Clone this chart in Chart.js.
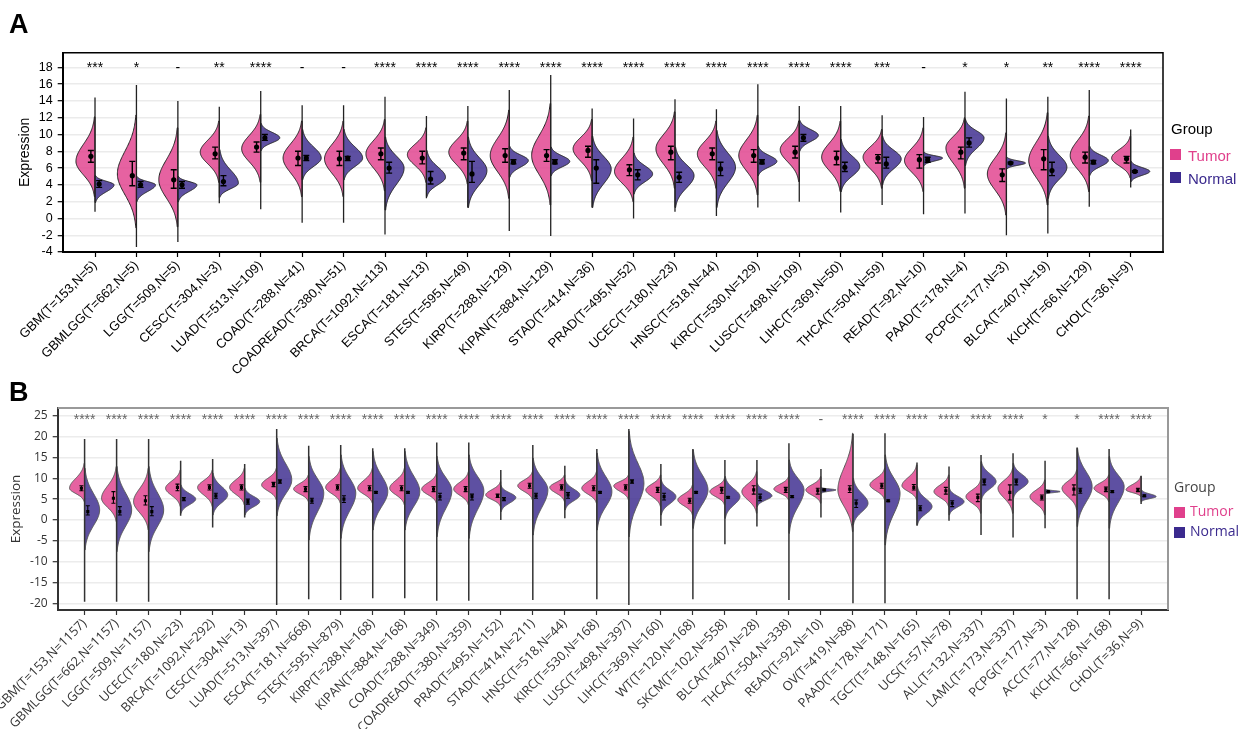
<!DOCTYPE html>
<html><head><meta charset="utf-8">
<script src="https://cdn.jsdelivr.net/npm/chart.js@4.4.0/dist/chart.umd.min.js"></script>
<style>
body{margin:0;background:#fff;width:1242px;height:729px;overflow:hidden;position:relative;font-family:"Liberation Sans",Arial,sans-serif}
canvas{position:absolute;left:0}
#cA{top:0;width:1242px;height:380px}
#cB{top:380px;width:1242px;height:349px}
.t{position:absolute;white-space:nowrap;line-height:1}
.sq{position:absolute;width:11px;height:11px}
</style></head><body>
<canvas id="cA" width="1242" height="380"></canvas>
<canvas id="cB" width="1242" height="349"></canvas>
<div class="t" style="left:9px;top:11px;font-weight:bold;font-size:27px">A</div>
<div class="t" style="left:9px;top:379px;font-weight:bold;font-size:27px">B</div>
<div class="t" style="left:1171px;top:121px;font-size:15px;color:#000">Group</div>
<div class="sq" style="left:1170px;top:149px;background:#E0408C"></div>
<div class="t" style="left:1188px;top:148px;font-size:15px;color:#E0408C">Tumor</div>
<div class="sq" style="left:1170px;top:172px;background:#3B2A8E"></div>
<div class="t" style="left:1188px;top:171px;font-size:15px;color:#3B2A8E">Normal</div>
<div class="t" style="left:1174px;top:480px;font-size:14px;color:#444;font-family:'Open Sans',sans-serif">Group</div>
<div class="sq" style="left:1174px;top:507px;background:#E0408C"></div>
<div class="t" style="left:1190px;top:504px;font-size:14px;color:#E0408C;font-family:'Open Sans',sans-serif">Tumor</div>
<div class="sq" style="left:1174px;top:527px;background:#3B2A8E"></div>
<div class="t" style="left:1190px;top:524px;font-size:14px;color:#3B2A8E;font-family:'Open Sans',sans-serif">Normal</div>
<script>
// ---------------- Panel A data ----------------
const labelsA = ['GBM(T=153,N=5)','GBMLGG(T=662,N=5)','LGG(T=509,N=5)','CESC(T=304,N=3)','LUAD(T=513,N=109)','COAD(T=288,N=41)','COADREAD(T=380,N=51)','BRCA(T=1092,N=113)','ESCA(T=181,N=13)','STES(T=595,N=49)','KIRP(T=288,N=129)','KIPAN(T=884,N=129)','STAD(T=414,N=36)','PRAD(T=495,N=52)','UCEC(T=180,N=23)','HNSC(T=518,N=44)','KIRC(T=530,N=129)','LUSC(T=498,N=109)','LIHC(T=369,N=50)','THCA(T=504,N=59)','READ(T=92,N=10)','PAAD(T=178,N=4)','PCPG(T=177,N=3)','BLCA(T=407,N=19)','KICH(T=66,N=129)','CHOL(T=36,N=9)'];
const sigA = ['***','*','-','**','****','-','-','****','****','****','****','****','****','****','****','****','****','****','****','***','-','*','*','**','****','****'];
const tumorMeanA = [7.4,5.1,4.6,7.7,8.5,7.2,7.1,7.7,7.2,7.8,7.5,7.5,8.1,5.8,7.9,7.7,7.5,7.9,7.2,7.2,7.0,7.9,5.2,7.1,7.3,7.1];
const tumorLoA = [6.7,3.9,3.6,7.1,7.9,6.3,6.3,7.0,6.5,7.0,6.7,6.8,7.3,5.1,7.0,7.0,6.7,7.2,6.4,6.6,6.0,7.1,4.4,5.8,6.6,6.6];
const tumorHiA = [8.1,6.8,5.8,8.5,9.1,8.0,8.0,8.4,8.0,8.4,8.3,8.2,8.6,6.4,8.6,8.4,8.2,8.6,8.0,7.6,7.6,8.5,5.9,8.2,7.9,7.4];
const tumorModeA = [6.8,5.3,4.6,7.9,8.3,7.2,7.1,7.7,7.6,7.9,7.5,7.5,8.3,5.6,8.3,7.7,7.5,8.2,7.3,7.3,6.9,8.4,5.3,6.9,7.5,7.2];
const tumorTopA = [12.1,12.3,10.8,11.6,12.4,11.6,11.6,11.8,10.8,11.6,12.9,13.7,11.8,9.7,12.7,11.6,12.3,11.6,11.6,10.6,10.8,12.0,10.2,12.6,12.2,9.8];
const tumorBotA = [2.6,-1.1,-1.0,4.3,4.3,2.6,2.6,3.3,4.3,4.1,2.4,1.6,4.5,2.0,3.6,3.6,2.8,4.4,3.2,3.6,3.2,3.6,0.4,1.6,3.2,4.8];
const normalMeanA = [4.1,4.0,4.0,4.4,9.6,7.2,7.2,6.0,4.7,5.3,6.7,6.7,6.0,5.2,4.9,5.9,6.7,9.6,6.1,6.5,7.0,9.0,6.6,5.7,6.7,5.6];
const normalLoA = [3.7,3.7,3.6,3.9,9.3,6.9,6.9,5.4,4.1,4.3,6.5,6.5,4.2,4.6,4.3,5.1,6.5,9.2,5.6,6.0,6.7,8.5,6.5,5.1,6.5,5.5];
const normalHiA = [4.5,4.4,4.4,5.1,10.0,7.5,7.4,6.7,5.6,6.8,7.0,7.0,7.0,5.8,5.5,6.7,7.0,10.0,6.7,7.3,7.3,9.6,6.7,6.7,6.9,5.7];
const normalModeA = [4.0,4.0,4.0,4.2,9.6,7.2,7.2,6.0,4.9,5.7,6.9,6.8,5.9,5.3,5.1,6.1,6.8,9.9,6.2,7.1,7.2,9.6,6.6,6.1,6.9,5.6];
const normalTopA = [5.1,5.0,5.0,8.2,11.3,10.6,10.6,9.7,8.1,9.7,8.6,8.5,9.8,7.8,8.5,10.5,8.6,11.7,9.4,9.8,7.9,11.8,7.3,9.8,8.6,6.8];
const normalBotA = [1.9,2.0,2.0,2.5,8.1,4.6,4.6,1.0,2.6,1.3,4.9,5.1,1.3,2.9,1.3,1.3,5.1,8.0,3.2,4.0,6.3,6.3,5.9,2.4,5.1,4.4];
const lineMinA = [0.8,-3.4,-2.8,1.8,1.1,-0.5,-0.5,-1.9,2.4,1.3,-1.5,-2.1,1.3,0.0,0.8,0.3,1.3,2.0,0.7,1.6,0.5,0.6,-2.0,-1.8,1.4,3.7];
const lineMaxA = [14.4,15.9,14.0,13.3,15.2,13.5,13.5,14.5,12.2,13.4,15.3,17.1,13.1,11.9,14.2,13.0,16.0,13.4,13.4,12.3,12.1,15.1,14.3,14.5,15.3,10.6];

// ---------------- Panel B data ----------------
const labelsB = ['GBM(T=153,N=1157)','GBMLGG(T=662,N=1157)','LGG(T=509,N=1157)','UCEC(T=180,N=23)','BRCA(T=1092,N=292)','CESC(T=304,N=13)','LUAD(T=513,N=397)','ESCA(T=181,N=668)','STES(T=595,N=879)','KIRP(T=288,N=168)','KIPAN(T=884,N=168)','COAD(T=288,N=349)','COADREAD(T=380,N=359)','PRAD(T=495,N=152)','STAD(T=414,N=211)','HNSC(T=518,N=44)','KIRC(T=530,N=168)','LUSC(T=498,N=397)','LIHC(T=369,N=160)','WT(T=120,N=168)','SKCM(T=102,N=558)','BLCA(T=407,N=28)','THCA(T=504,N=338)','READ(T=92,N=10)','OV(T=419,N=88)','PAAD(T=178,N=171)','TGCT(T=148,N=165)','UCS(T=57,N=78)','ALL(T=132,N=337)','LAML(T=173,N=337)','PCPG(T=177,N=3)','ACC(T=77,N=128)','KICH(T=66,N=168)','CHOL(T=36,N=9)'];
const sigB = ['****','****','****','****','****','****','****','****','****','****','****','****','****','****','****','****','****','****','****','****','****','****','****','-','****','****','****','****','****','****','*','*','****','****'];
const tumorMeanB = [7.6,5.2,4.6,7.8,7.8,7.8,8.6,7.4,7.8,7.6,7.6,7.4,7.4,5.8,8.2,7.8,7.6,7.8,7.2,4.6,7.2,7.2,7.2,7.0,7.4,8.2,7.8,7.0,5.4,6.6,5.4,7.4,7.4,7.2];
const tumorLoB = [7.0,4.0,3.6,7.0,7.2,7.2,8.0,6.8,7.2,7.0,7.0,6.8,6.8,5.4,7.6,7.2,7.0,7.2,6.6,4.0,6.4,6.2,6.6,6.2,6.6,7.6,7.2,6.2,4.4,4.8,4.8,6.0,6.8,6.8];
const tumorHiB = [8.2,6.8,5.8,8.6,8.4,8.4,9.0,8.0,8.4,8.2,8.2,8.0,8.0,6.2,8.8,8.4,8.2,8.4,7.8,5.2,7.8,8.2,7.8,7.6,8.2,8.8,8.5,7.8,6.2,8.4,6.0,8.4,7.9,7.6];
const tumorModeB = [7.6,5.2,4.4,7.6,7.8,7.8,8.4,7.4,7.8,7.6,7.6,7.4,7.4,6.0,8.2,7.8,7.6,8.2,7.2,4.8,6.8,6.8,7.4,7.2,7.2,8.4,8.2,6.8,5.6,7.6,5.6,7.6,7.6,7.2];
const tumorTopB = [13.6,12.8,12.4,12.0,12.0,12.4,12.4,10.8,12.4,12.4,12.4,11.2,11.6,9.2,11.6,10.8,11.6,10.8,10.8,8.4,10.0,11.6,10.4,10.4,20.8,12.4,13.2,10.8,9.6,12.4,9.6,12.0,10.8,10.4];
const tumorBotB = [4.4,-0.4,-2.4,3.2,3.2,3.6,4.8,4.4,4.0,4.0,3.6,4.0,3.6,3.2,4.8,4.4,4.0,4.8,3.2,1.2,3.6,1.6,4.8,4.0,-2.8,4.8,4.8,3.2,1.6,1.6,1.2,2.4,4.4,5.6];
const normalMeanB = [2.0,2.0,2.0,5.0,5.8,4.4,9.2,4.6,5.0,6.6,6.6,5.6,5.6,5.0,5.8,6.0,6.6,9.2,5.6,6.6,5.4,5.4,5.6,7.2,4.0,4.6,2.8,4.0,9.2,9.2,6.8,7.0,6.8,5.8];
const normalLoB = [1.2,1.2,1.0,4.6,5.2,3.8,8.8,4.0,4.2,6.4,6.4,4.8,4.8,4.6,5.2,5.2,6.4,8.8,4.8,6.4,5.2,4.6,5.4,7.0,3.0,4.4,2.2,3.2,8.4,8.4,6.7,6.4,6.6,5.6];
const normalHiB = [3.4,3.2,3.2,5.4,6.4,5.0,9.6,5.2,5.8,6.8,6.8,6.4,6.2,5.4,6.4,6.6,6.8,9.6,6.4,6.8,5.6,6.2,5.8,7.4,4.8,4.8,3.4,4.6,9.8,9.8,6.9,7.6,7.0,6.0];
const normalModeB = [2.4,2.4,2.4,5.0,6.0,4.4,9.6,6.4,6.4,6.8,6.8,7.0,7.0,5.4,7.2,6.0,6.8,8.8,5.6,7.2,5.6,5.8,7.2,7.2,4.0,6.4,3.2,4.4,9.2,9.2,6.8,8.0,8.0,5.6];
const normalTopB = [12.4,12.8,12.8,8.4,11.2,7.6,19.6,15.2,15.6,16.4,16.4,15.2,15.6,8.2,14.8,9.6,16.0,21.2,9.6,16.8,10.4,8.8,14.4,7.8,10.0,15.6,8.0,7.6,14.0,13.6,7.4,17.2,15.2,7.2];
const normalBotB = [-7.2,-7.6,-7.6,1.6,1.2,1.2,1.0,-4.8,-4.4,-2.4,-2.4,-4.0,-4.4,2.0,-3.6,2.4,-2.4,-4.0,1.2,-2.0,0.4,3.2,-3.2,6.4,-1.2,-6.0,-1.2,1.2,4.8,5.2,6.2,-1.6,-2.0,4.4];
const lineMinB = [-19.6,-19.6,-19.6,1.0,-1.8,0.6,-20.4,-19.0,-19.2,-18.8,-18.8,-19.4,-19.4,0.0,-19.2,0.4,-19.0,-20.4,-1.4,-19.0,-5.8,-1.6,-19.2,0.6,-20.0,-20.0,-1.4,-0.2,-3.6,-4.2,-2.0,-19.0,-19.0,3.8];
const lineMaxB = [19.4,19.4,19.4,14.2,14.6,13.4,21.8,17.8,18.0,17.2,17.2,18.6,18.6,12.0,18.0,13.0,17.0,21.8,13.4,17.0,14.4,14.4,18.4,12.2,20.6,20.8,13.8,12.8,15.6,16.0,14.2,17.4,17.0,10.6];

const TUMOR_FILL = 'rgba(224,64,140,0.82)';
const NORMAL_FILL = 'rgba(58,42,142,0.82)';

function halfViolin(ctx, xs, ys, xc, mode, top, bot, side, halfW) {
  const sUp = Math.max(top - mode, 0.05) / 2.6;
  const sDn = Math.max(mode - bot, 0.05) / 2.6;
  const n = 90;
  const x0 = xs.getPixelForValue(xc);
  ctx.beginPath();
  ctx.moveTo(x0, ys.getPixelForValue(bot));
  for (let k = 0; k <= n; k++) {
    const v = bot + (top - bot) * k / n;
    const s = v >= mode ? sUp : sDn;
    const w = halfW * Math.exp(-0.5 * Math.pow((v - mode) / s, 2));
    ctx.lineTo(xs.getPixelForValue(xc + side * w), ys.getPixelForValue(v));
  }
  ctx.lineTo(x0, ys.getPixelForValue(top));
  ctx.closePath();
}

function makePanel(canvasId, P) {
  const n = P.labels.length;
  const plugin = {
    id: 'violins' + canvasId,
    beforeDatasetsDraw(chart) {
      const {ctx, chartArea, scales: {x, y}} = chart;
      ctx.save();
      ctx.beginPath();
      ctx.rect(chartArea.left, chartArea.top, chartArea.width, chartArea.height);
      ctx.clip();
      for (let i = 0; i < n; i++) {
        const xp = x.getPixelForValue(i);
        halfViolin(ctx, x, y, i, P.tMode[i], P.tTop[i], P.tBot[i], -1, P.halfW);
        ctx.fillStyle = TUMOR_FILL; ctx.fill();
        ctx.strokeStyle = P.outline; ctx.lineWidth = 1; ctx.stroke();
        halfViolin(ctx, x, y, i, P.nMode[i], P.nTop[i], P.nBot[i], 1, P.halfW);
        ctx.fillStyle = NORMAL_FILL; ctx.fill();
        ctx.strokeStyle = P.outline; ctx.lineWidth = 1; ctx.stroke();
        ctx.strokeStyle = P.lineColor; ctx.lineWidth = P.lineW;
        ctx.beginPath();
        ctx.moveTo(xp, y.getPixelForValue(P.lineMax[i]));
        ctx.lineTo(xp, y.getPixelForValue(P.lineMin[i]));
        ctx.stroke();
        // error bars
        ctx.strokeStyle = '#000'; ctx.lineWidth = P.errW;
        [[i - P.off, P.tLo[i], P.tHi[i]], [i + P.off, P.nLo[i], P.nHi[i]]].forEach(([xv, lo, hi]) => {
          const ex = x.getPixelForValue(xv);
          const y1 = y.getPixelForValue(lo), y2 = y.getPixelForValue(hi);
          ctx.beginPath();
          ctx.moveTo(ex, y1); ctx.lineTo(ex, y2);
          ctx.moveTo(ex - P.cap, y1); ctx.lineTo(ex + P.cap, y1);
          ctx.moveTo(ex - P.cap, y2); ctx.lineTo(ex + P.cap, y2);
          ctx.stroke();
        });
      }
      ctx.restore();
    },
    afterDraw(chart) {
      const {ctx, chartArea, scales: {x}} = chart;
      ctx.save();
      ctx.font = P.starFont;
      ctx.fillStyle = P.starColor;
      ctx.textAlign = 'center';
      ctx.textBaseline = 'alphabetic';
      for (let i = 0; i < n; i++) {
        ctx.fillText(P.sig[i], x.getPixelForValue(i), chartArea.top + P.starDy);
      }
      ctx.strokeStyle = P.boxColor; ctx.lineWidth = P.boxW;
      ctx.beginPath();
      ctx.moveTo(chartArea.left, chartArea.top);
      ctx.lineTo(chartArea.right, chartArea.top);
      ctx.lineTo(chartArea.right, chartArea.bottom);
      ctx.stroke();
      ctx.restore();
    }
  };
  const tPts = P.tMean.map((v, i) => ({x: i - P.off, y: v}));
  const nPts = P.nMean.map((v, i) => ({x: i + P.off, y: v}));
  return new Chart(document.getElementById(canvasId), {
    type: 'scatter',
    data: {datasets: [
      {label: 'Tumor', data: tPts, pointRadius: P.ptR, pointStyle: P.ptStyle, backgroundColor: '#000', borderColor: '#000', borderWidth: 0},
      {label: 'Normal', data: nPts, pointRadius: P.ptR, pointStyle: P.ptStyle, backgroundColor: '#000', borderColor: '#000', borderWidth: 0}
    ]},
    options: {
      responsive: false, animation: false,
      layout: {padding: P.padding},
      plugins: {legend: {display: false}, tooltip: {enabled: false}},
      scales: {
        x: {
          type: 'linear', min: -P.pad, max: n - 1 + P.pad,
          afterBuildTicks: s => { s.ticks = P.labels.map((_, i) => ({value: i})); },
          afterFit: s => { s.height = P.xH; s.paddingLeft = 0; s.paddingRight = 0; },
          ticks: {autoSkip: false, minRotation: 45, maxRotation: 45, padding: 1,
            callback: v => P.labels[v], font: P.xFont, color: P.textColor},
          grid: {drawOnChartArea: false, tickLength: 5, tickColor: P.axisColor, tickWidth: 1.2},
          border: {display: true, color: P.axisColor, width: 2}
        },
        y: {
          min: P.yMin, max: P.yMax,
          afterFit: s => { s.width = P.yW; },
          ticks: {stepSize: P.step, includeBounds: false, padding: 5, font: P.yFont, color: P.textColor},
          grid: {color: P.gridColor, lineWidth: 1.4, tickLength: 5, tickColor: P.axisColor, tickWidth: 1.2},
          border: {display: true, color: P.axisColor, width: 2},
          title: {display: true, text: 'Expression', font: P.titleFont, color: P.textColor, padding: {top: P.titlePad, bottom: 0}}
        }
      }
    },
    plugins: [plugin]
  });
}

makePanel('cA', {
  labels: labelsA, sig: sigA,
  tMean: tumorMeanA, tLo: tumorLoA, tHi: tumorHiA, tMode: tumorModeA, tTop: tumorTopA, tBot: tumorBotA,
  nMean: normalMeanA, nLo: normalLoA, nHi: normalHiA, nMode: normalModeA, nTop: normalTopA, nBot: normalBotA,
  lineMin: lineMinA, lineMax: lineMaxA,
  halfW: 0.46, off: 0.1, cap: 3, errW: 1.4, ptR: 2.6, ptStyle: 'circle',
  lineColor: '#222', outline: '#222', lineW: 1.3,
  pad: 0.78, yMin: -4, yMax: 19.75, step: 2,
  padding: {top: 52.7, right: 79, bottom: 0, left: 0}, xH: 128, yW: 62.7,
  xFont: {family: 'Liberation Sans', size: 13}, yFont: {family: 'Liberation Sans', size: 12.5},
  titleFont: {family: 'Liberation Sans', size: 14}, titlePad: 17,
  textColor: '#000', axisColor: '#000', gridColor: '#ebebeb',
  starFont: '14px "Liberation Sans"', starColor: '#000', starDy: 19.5,
  boxColor: '#000', boxW: 1.5
});

makePanel('cB', {
  labels: labelsB, sig: sigB,
  tMean: tumorMeanB, tLo: tumorLoB, tHi: tumorHiB, tMode: tumorModeB, tTop: tumorTopB, tBot: tumorBotB,
  nMean: normalMeanB, nLo: normalLoB, nHi: normalHiB, nMode: normalModeB, nTop: normalTopB, nBot: normalBotB,
  lineMin: lineMinB, lineMax: lineMaxB,
  halfW: 0.47, off: 0.1, cap: 2, errW: 1.1, ptR: 2.2, ptStyle: 'rect',
  lineColor: '#333', outline: '#555', lineW: 1.5,
  pad: 0.84, yMin: -21.6, yMax: 26.85, step: 5,
  padding: {top: 28, right: 74, bottom: 0, left: 0}, xH: 119, yW: 57.7,
  xFont: {family: 'Open Sans', size: 12.8}, yFont: {family: 'Open Sans', size: 12},
  titleFont: {family: 'Open Sans', size: 13.5}, titlePad: 8,
  textColor: '#333', axisColor: '#333', gridColor: '#ececec',
  starFont: '14px "Liberation Sans"', starColor: '#666', starDy: 16,
  boxColor: '#999', boxW: 2
});
</script>
</body></html>
